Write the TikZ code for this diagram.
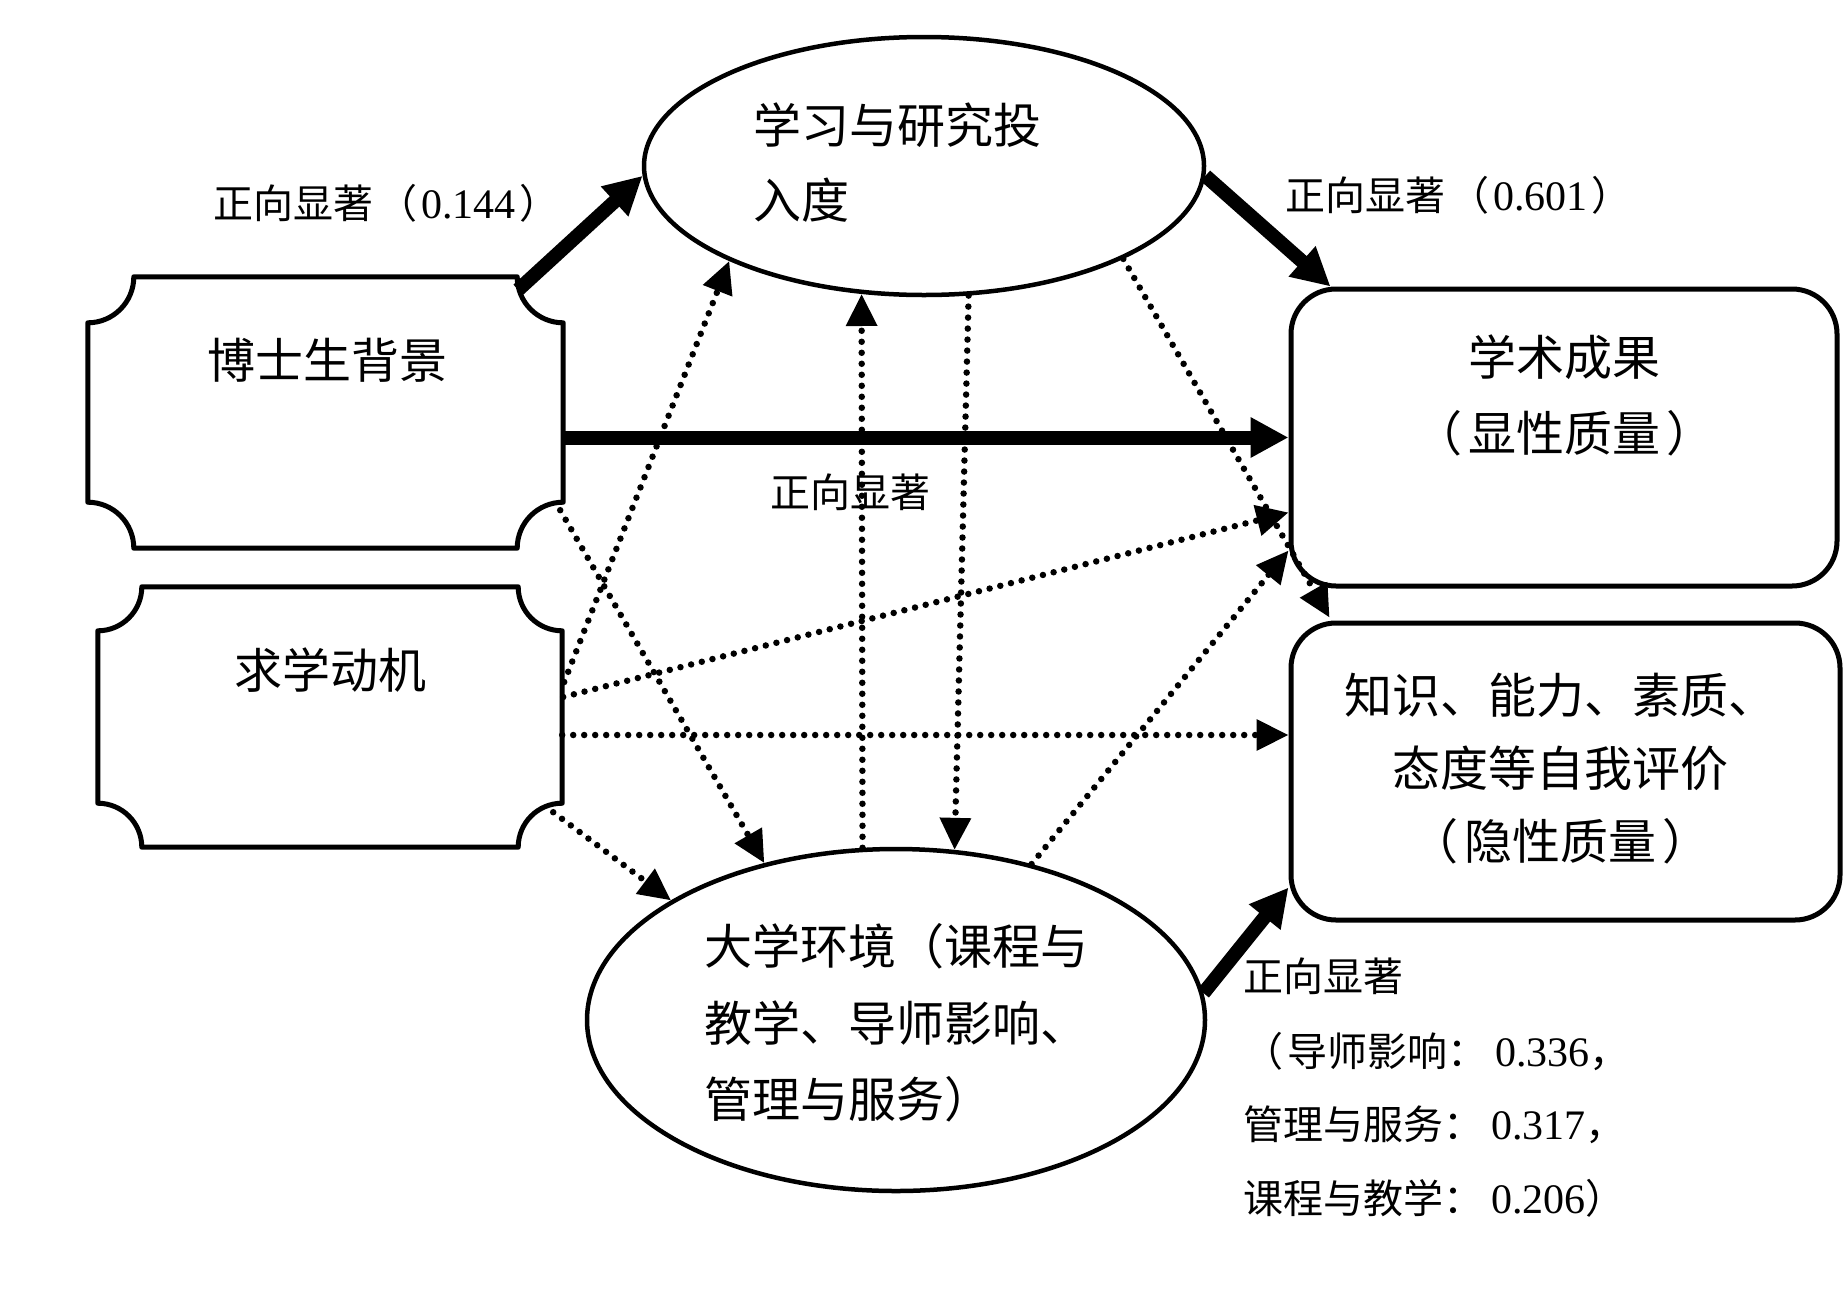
\documentclass[tikz,border=0pt]{standalone}
\usepackage{fontspec}
\setmainfont{Liberation Serif}
\newfontfamily\cjk{Noto Sans CJK SC}
\usetikzlibrary{calc,arrows.meta,shapes.geometric}
\newcommand\dgt[1]{{\rmfamily\fontsize{42}{42}\selectfont #1}}
\newcommand\notchbox[2]{%
  \draw[boxline] ($(#1.north west)+(#2,0)$) -- ($(#1.north east)+(-#2,0)$)
    arc[start angle=180,end angle=90,radius=#2]
    -- ($(#1.south east)+(0,-#2)$)
    arc[start angle=270,end angle=180,radius=#2]
    -- ($(#1.south west)+(#2,0)$)
    arc[start angle=0,end angle=-90,radius=#2]
    -- ($(#1.north west)+(0,#2)$)
    arc[start angle=90,end angle=0,radius=#2] -- cycle;}
\tikzset{
  boxline/.style={line width=5pt, line join=round},
  holder/.style={rectangle, inner sep=0pt},
  rbox/.style={draw, rectangle, rounded corners=45pt, line width=5pt, inner sep=0pt},
  ell/.style={draw, ellipse, line width=4.5pt, inner sep=0pt},
  solidarr/.style={line width=14pt, -{Triangle[length=38pt,width=38pt]}},
  dotarr/.style={line width=6.5pt, line cap=round, dash pattern=on 0pt off 11pt, -{Triangle[length=32pt,width=30pt]}},
  txt/.style={font=\cjk\fontsize{48}{75}\selectfont, inner sep=0pt},
  lbl/.style={font=\cjk\fontsize{40}{40}\selectfont, inner sep=0pt, anchor=west},
}
\begin{document}
\begin{tikzpicture}[x=1pt,y=-1pt]
\fill[white] (0,0) rectangle (1844,1288);
\useasboundingbox (0,0) rectangle (1844,1288);

% nodes
\node[ell, minimum width=560pt, minimum height=258pt] (e1) at (924,166) {};
\node[ell, minimum width=618pt, minimum height=342pt] (e2) at (896,1020) {};
\node[holder, minimum width=475pt, minimum height=271pt] (b1) at (325.5,412.5) {};
\node[holder, minimum width=464pt, minimum height=260pt] (b2) at (330,717) {};
\node[rbox, minimum width=546pt, minimum height=297pt] (b3) at (1564,437.5) {};
\node[rbox, minimum width=549pt, minimum height=297pt] (b4) at (1565.5,771.5) {};
\notchbox{b1}{46}
\notchbox{b2}{44}

% texts
\node[txt, anchor=west, align=left] (t1) at (753,162.5) {学习与研究投\\入度};
\node[txt, anchor=west, align=left, font=\cjk\fontsize{48}{76.5}\selectfont] (t2) at (704,1023) {大学环境（课程与\\教学、导师影响、\\管理与服务）};
\node[txt] (t3) at (327,360) {博士生背景};
\node[txt] (t4) at (330,670) {求学动机};
\node[txt, align=center, font=\cjk\fontsize{48}{76}\selectfont] (t5) at (1564,395) {学术成果\\（\hspace{6pt}显性质量\hspace{6pt}）};
\node[txt, align=center, font=\cjk\fontsize{48}{73}\selectfont] (t6) at (1560,768.5) {知识、能力、素质、\\态度等自我评价\\（\hspace{6pt}隐性质量\hspace{6pt}）};

% labels
\node[lbl] (l1) at (213,203) {正向显著\hspace{4pt}（\hspace{4pt}\dgt{0.144}\hspace{4pt}）};
\node[lbl] (l2) at (1285,195) {正向显著\hspace{4pt}（\hspace{4pt}\dgt{0.601}\hspace{4pt}）};
\node[lbl] (l3) at (770,492) {正向显著};
\node[lbl] (l4) at (1243,976) {正向显著};
\node[lbl] (l5) at (1243,1052) {（\hspace{4pt}导师影响：\hspace{8pt}\dgt{0.336}，};
\node[lbl] (l6) at (1243,1125) {管理与服务：\hspace{8pt}\dgt{0.317}，};
\node[lbl] (l7) at (1243,1198) {课程与教学：\hspace{8pt}\dgt{0.206}）};

% solid connectors
\draw[solidarr] ($(b1.north east)+(-45,13)$) -- (e1.182);
\draw[solidarr] (e1.358) -- ($(b3.north west)+(42,0)$);
\draw[solidarr] ($(b1.east)+(0,25)$) -- (b3.west);
\draw[solidarr] (e2.5) -- ($(b4.south west)+(0,-35)$);

% dotted connectors
\draw[dotarr] ($(b1.south east)+(-3,-38)$) -- (e2.130);
\draw[dotarr] ($(b2.east)+(2,-35)$) -- (e1.206);
\draw[dotarr] (e2.101) -- (e1.244);
\draw[dotarr] (e1.289) -- (e2.71);
\draw[dotarr] (e1.335) -- ($(b4.north west)+(41,-3)$);
\draw[dotarr] (e2.49) -- ($(b3.south west)+(0,-38)$);
\draw[dotarr] ($(b2.east)+(1,-20)$) -- ($(b3.west)+(0,75)$);
\draw[dotarr] ($(b2.east)+(0,18)$) -- ($(b4.west)+(0,-36.5)$);
\draw[dotarr] ($(b2.south east)+(-9,-35)$) -- (e2.152);
\end{tikzpicture}
\end{document}
